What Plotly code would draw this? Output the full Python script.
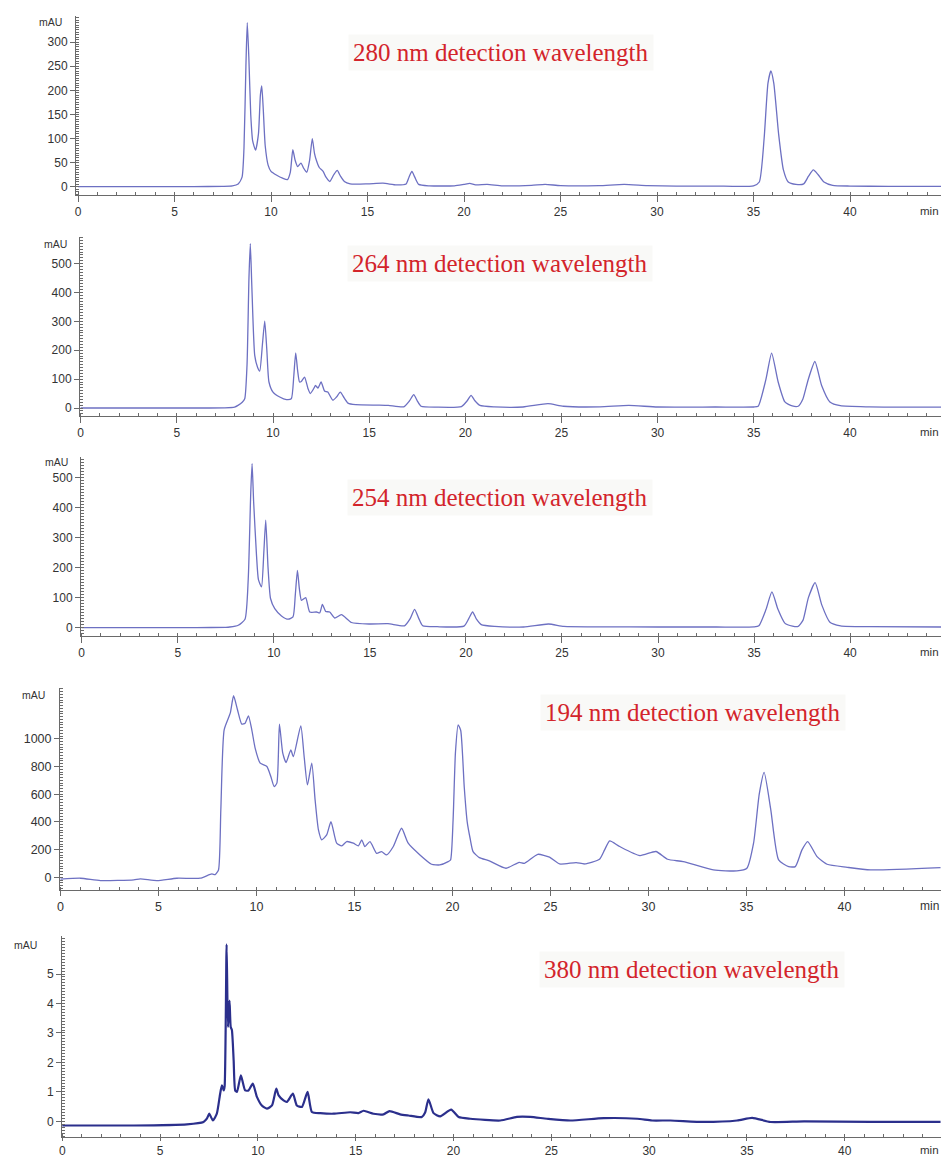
import plotly.graph_objects as go

# ---------------- data (time in min, absorbance in mAU) -------------
t_280 = [0, 2, 4, 6, 7.5, 8.0, 8.3, 8.5, 8.6, 8.7,
         8.77, 8.85, 8.95, 9.05, 9.2, 9.35, 9.45, 9.52, 9.6, 9.7,
         9.85, 10.0, 10.3, 10.6, 10.85, 11.0, 11.13, 11.25, 11.38, 11.55,
         11.7, 11.85, 12.0, 12.14, 12.25, 12.35, 12.5, 12.7, 12.85, 13.05,
         13.25, 13.43, 13.6, 13.8, 14.1, 15.0, 15.8, 16.5, 17.0, 17.15,
         17.3, 17.45, 17.65, 18.2, 19.5, 20.0, 20.3, 20.6, 21.2, 22.0,
         23.5, 24.2, 25.0, 27.0, 28.3, 29.5, 31.0, 33.0, 35.0, 35.3,
         35.55, 35.75, 35.9, 36.05, 36.3, 36.55, 36.8, 37.2, 37.6, 37.85,
         38.1, 38.35, 38.65, 39.1, 40.0, 42.0, 44.8]
a_280 = [0.5, 0.5, 0.5, 0.5, 1, 2, 6, 20, 80, 250,
         340, 270, 150, 95, 76, 110, 190, 209, 160, 85,
         45, 32, 24, 18, 15, 30, 77, 55, 42, 49,
         38, 30, 55, 100, 70, 55, 40, 32, 20, 11,
         25, 34, 22, 11, 6, 6, 7.5, 4, 6, 20,
         32, 20, 5, 2, 2, 5, 7, 4, 5, 2,
         3, 5, 2.5, 2.5, 5, 2.5, 1.5, 1.5, 2, 10,
         100, 215, 240, 215, 110, 35, 10, 5, 6, 22,
         35, 25, 10, 3, 1.5, 1, 1]

t_264 = [0, 2, 4, 6, 7.5, 8.0, 8.18, 8.4, 8.53, 8.65,
         8.75, 8.82, 8.9, 9.05, 9.2, 9.31, 9.45, 9.57, 9.68, 9.79,
         10.0, 10.35, 10.7, 10.95, 11.08, 11.18, 11.28, 11.38, 11.47, 11.64,
         11.82, 11.94, 12.1, 12.21, 12.34, 12.5, 12.68, 12.85, 13.11, 13.3,
         13.5, 13.7, 13.9, 14.3, 15.5, 16.0, 16.8, 17.1, 17.32, 17.5,
         17.7, 18.5, 19.8, 20.1, 20.3, 20.5, 20.76, 21.5, 23.0, 24.3,
         25.1, 27.0, 28.5, 30.0, 33.0, 35.0, 35.23, 35.63, 35.93, 36.27,
         36.62, 37.0, 37.31, 37.55, 37.83, 38.18, 38.53, 38.96, 39.5, 41.0,
         44.8]
a_264 = [0, 0, 0, 0, 0.5, 3, 9, 20, 32, 150,
         450, 569, 420, 182, 140, 128, 220, 301, 200, 90,
         55, 38, 29, 32, 110, 191, 130, 90, 92, 107,
         67, 50, 65, 78, 69, 90, 59, 55, 27, 38,
         55, 35, 17, 11.5, 10, 9, 4, 25, 46, 25,
         6, 3, 5, 25, 44, 25, 9, 4, 3.5, 15,
         6, 4, 9, 3.5, 3.5, 3.5, 6, 98, 190, 90,
         21, 7, 6, 30, 98, 161, 78, 21, 8, 4,
         3]

t_254 = [0, 2, 4, 6, 7.5, 7.71, 8.15, 8.5, 8.67, 8.8,
         8.87, 8.95, 9.1, 9.2, 9.36, 9.48, 9.58, 9.7, 9.83, 10.05,
         10.4, 10.75, 11.0, 11.12, 11.23, 11.33, 11.44, 11.66, 11.87, 12.22,
         12.39, 12.53, 12.7, 12.91, 13.17, 13.52, 14.04, 15.0, 15.94, 16.8,
         17.1, 17.33, 17.55, 17.75, 18.5, 19.9, 20.15, 20.35, 20.55, 20.8,
         21.5, 23.0, 24.3, 25.1, 27.0, 30.0, 33.0, 35.0, 35.25, 35.62,
         35.93, 36.25, 36.6, 37.0, 37.3, 37.55, 37.83, 38.18, 38.53, 38.95,
         39.5, 41.0, 44.8]
a_254 = [0, 0, 0, 0, 1, 2, 8, 28, 163, 450,
         547, 420, 241, 160, 136, 250, 358, 200, 97, 63,
         39, 28, 36, 110, 191, 130, 91, 100, 52, 52,
         49, 77, 54, 52, 32, 43, 17, 12, 13, 6,
         30, 61, 30, 6, 3, 5, 30, 52, 28, 10,
         4, 2, 12, 4, 2.5, 2, 2, 2.5, 6, 60,
         119, 60, 15, 5, 4, 25, 100, 150, 75, 18,
         6, 3, 2]

t_194 = [0, 1.02, 2.04, 3.74, 4.07, 4.92, 5.94, 7.13, 7.72, 7.89,
         8.06, 8.18, 8.35, 8.66, 8.83, 9.03, 9.25, 9.42, 9.59, 9.76,
         9.93, 10.19, 10.53, 10.73, 10.9, 11.04, 11.17, 11.34, 11.51, 11.75,
         11.88, 12.26, 12.43, 12.6, 12.82, 12.99, 13.16, 13.33, 13.58, 13.8,
         14.09, 14.35, 14.6, 14.94, 15.2, 15.37, 15.53, 15.79, 16.13, 16.38,
         16.64, 16.98, 17.4, 17.74, 18.34, 18.93, 19.35, 19.78, 19.9, 20.03,
         20.15, 20.29, 20.42, 20.6, 20.75, 20.9, 21.05, 21.37, 21.88, 22.73,
         23.4, 23.67, 24.35, 24.95, 25.46, 26.31, 26.74, 27.5, 27.76, 28.02,
         28.53, 29.56, 30.38, 30.97, 31.77, 33.31, 34.51, 35.02, 35.36, 35.65,
         35.9, 36.24, 36.64, 37.15, 37.49, 37.83, 38.12, 38.6, 39.11, 40.14,
         41.33, 44.9]
a_194 = [-14, -7, -24, -19, -12, -24, -7, -7, 24, 19,
         53, 487, 1065, 1185, 1311, 1210, 1106, 1113, 1166, 1065,
         933, 824, 800, 728, 655, 680, 1106, 896, 829, 920,
         872, 1094, 872, 667, 824, 559, 342, 270, 306, 402,
         246, 227, 258, 246, 227, 270, 222, 258, 173, 185,
         161, 222, 354, 246, 161, 94, 89, 113, 125, 414,
         900, 1101, 1060, 650, 400, 280, 185, 142, 118, 65,
         108, 101, 166, 145, 96, 106, 96, 130, 198, 263,
         222, 157, 186, 130, 113, 53, 46, 65, 246, 600,
         757, 487, 125, 77, 77, 198, 258, 149, 94, 72,
         53, 70]

t_380 = [0, 3.65, 6.37, 7.22, 7.39, 7.51, 7.7, 7.9, 8.07, 8.16,
         8.25, 8.3, 8.4, 8.47, 8.55, 8.61, 8.67, 8.76, 8.84, 8.93,
         9.13, 9.35, 9.52, 9.74, 9.95, 10.2, 10.46, 10.72, 10.94, 11.06,
         11.31, 11.48, 11.79, 11.99, 12.25, 12.54, 12.76, 13.19, 13.87, 14.72,
         15.14, 15.4, 15.91, 16.42, 16.73, 17.27, 17.7, 18.38, 18.55, 18.72,
         18.98, 19.32, 19.88, 20.26, 20.85, 22.39, 23.24, 23.92, 24.78, 25.97,
         27.68, 29.39, 30.15, 31.09, 32.8, 34.5, 35.27, 36.21, 37.92, 41.33,
         44.9]
a_380 = [-0.14, -0.14, -0.1, -0.02, 0.09, 0.26, 0.03, 0.26, 0.94, 1.22,
         1.05, 1.2, 6.01, 3.2, 4.1, 3.2, 3.1, 2.07, 1.05, 1.0,
         1.56, 1.05, 1.05, 1.28, 0.83, 0.54, 0.43, 0.54, 1.11, 0.88,
         0.71, 0.66, 0.94, 0.54, 0.49, 1.0, 0.32, 0.28, 0.26, 0.31,
         0.28, 0.36, 0.26, 0.24, 0.35, 0.24, 0.2, 0.15, 0.3, 0.75,
         0.28, 0.17, 0.4, 0.15, 0.09, 0.03, 0.15, 0.15, 0.09, 0.03,
         0.11, 0.09, 0.03, 0.03, -0.02, 0.03, 0.12, -0.02, 0, -0.02,
         -0.02]

titles = ["280 nm detection wavelength", "264 nm detection wavelength",
          "254 nm detection wavelength", "194 nm detection wavelength",
          "380 nm detection wavelength"]
x_ticks = [0, 5, 10, 15, 20, 25, 30, 35, 40]
y_ticks = [[0, 50, 100, 150, 200, 250, 300],
           [0, 100, 200, 300, 400, 500],
           [0, 100, 200, 300, 400, 500],
           [0, 200, 400, 600, 800, 1000],
           [0, 1, 2, 3, 4, 5]]
series = [(t_280, a_280), (t_264, a_264), (t_254, a_254), (t_194, a_194), (t_380, a_380)]

# ---------------- geometry / style (pixels in the 941 x 1157 page) ----------------
W, H = 941, 1157
geo = [  # axis-left px, 0-min px, px per min, top px, bottom px, y range, minor dy, font, x ticklen
    dict(left=76, t0=78.0, sc=19.30, top=16, bot=195, yr=[-17, 354], mdy=5, fs=12, xtl=6),
    dict(left=80, t0=80.7, sc=19.23, top=237, bot=416, yr=[-27.7, 592], mdy=10, fs=12, xtl=6),
    dict(left=81, t0=81.7, sc=19.21, top=457, bot=636, yr=[-28, 569], mdy=10, fs=12, xtl=6),
    dict(left=60, t0=60.5, sc=19.60, top=688, bot=890, yr=[-92, 1367], mdy=20, fs=12.5, xtl=5),
    dict(left=62, t0=62.3, sc=19.56, top=936, bot=1137, yr=[-0.53, 6.29], mdy=0.1, fs=12, xtl=3),
]
title_pos = [(501, 52), (500, 263), (500, 497), (693, 712), (692, 969)]
mau_pos = [(37, 22), (42, 244), (43, 462), (20, 695), (12, 945)]
min_y = [211, 432, 652, 906, 1150]
line_style = [dict(color="#6d70c2", width=1.3)] * 4 + [dict(color="#2b2f8c", width=2.2)]

AX = "#6a6a6a"
TXT = "#333333"
SANS = "Liberation Sans, Arial, sans-serif"

fig = go.Figure()
layout = dict(width=W, height=H, margin=dict(l=0, r=0, t=0, b=0, autoexpand=False),
              paper_bgcolor="white", plot_bgcolor="white", showlegend=False)
annotations = []

for i, ((tt, aa), g) in enumerate(zip(series, geo), start=1):
    xs = "" if i == 1 else str(i)
    fig.add_trace(go.Scatter(
        x=tt, y=aa, mode="lines",
        line=dict(color=line_style[i - 1]["color"], width=line_style[i - 1]["width"],
                  shape="spline", smoothing=0.55),
        xaxis="x" + xs, yaxis="y" + xs, hoverinfo="skip"))
    xmin = (g["left"] - g["t0"]) / g["sc"]
    xmax = (W - g["t0"]) / g["sc"]
    layout["xaxis" + xs] = dict(
        domain=[g["left"] / W, 1.0], range=[xmin, xmax], anchor="y" + xs,
        tickvals=x_ticks, ticks="outside", ticklen=g["xtl"], tickcolor=AX, tickwidth=1,
        minor=dict(dtick=1, tick0=0, ticks="inside", ticklen=3, tickcolor=AX),
        showline=True, linecolor=AX, linewidth=1, showgrid=False, zeroline=False,
        tickfont=dict(family=SANS, size=g["fs"], color=TXT), fixedrange=True)
    layout["yaxis" + xs] = dict(
        domain=[1 - g["bot"] / H, 1 - g["top"] / H], range=g["yr"], anchor="x" + xs,
        tickvals=y_ticks[i - 1], ticks="outside", ticklen=5, tickcolor=AX, tickwidth=1,
        minor=dict(dtick=g["mdy"], tick0=0, ticks="inside", ticklen=3, tickcolor=AX),
        showline=True, linecolor=AX, linewidth=1, showgrid=False, zeroline=False,
        tickfont=dict(family=SANS, size=g["fs"], color=TXT), fixedrange=True)

    tx, ty = title_pos[i - 1]
    annotations.append(dict(
        text=titles[i - 1], xref="paper", yref="paper", x=tx / W, y=1 - ty / H,
        xanchor="center", yanchor="middle", showarrow=False,
        font=dict(family="Liberation Serif, Times New Roman, serif", size=25, color="#d3242b"),
        bgcolor="rgba(235,235,230,0.3)", borderpad=4))
    mx, my = mau_pos[i - 1]
    annotations.append(dict(
        text="mAU", xref="paper", yref="paper", x=mx / W, y=1 - my / H,
        xanchor="left", yanchor="middle", showarrow=False,
        font=dict(family=SANS, size=10.5, color=TXT)))
    annotations.append(dict(
        text="min", xref="paper", yref="paper", x=940 / W, y=1 - min_y[i - 1] / H,
        xanchor="right", yanchor="middle", showarrow=False, borderpad=0,
        font=dict(family=SANS, size=g["fs"] - 0.5, color=TXT)))

layout["annotations"] = annotations
fig.update_layout(**layout)
fig.write_html("out.html", config={"displayModeBar": False},
               post_script="document.body.style.margin='0';document.body.style.overflow='hidden';")
